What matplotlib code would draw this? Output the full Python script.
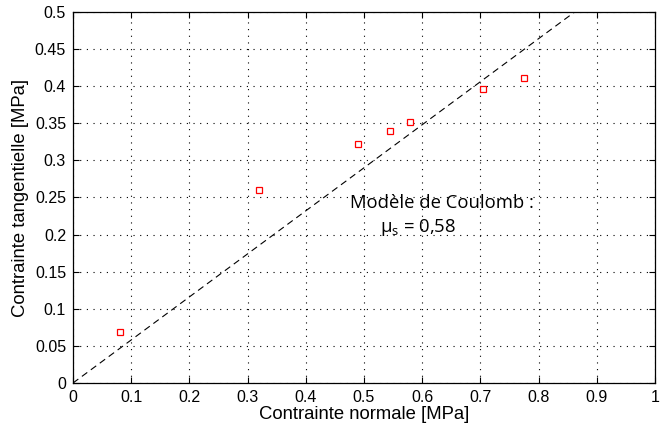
import matplotlib
matplotlib.use("Agg")
import matplotlib.pyplot as plt
import numpy as np

sigma_n = [0.08, 0.32, 0.49, 0.545, 0.579, 0.705, 0.775]
tau = [0.0685, 0.26, 0.322, 0.339, 0.352, 0.396, 0.411]
mu_s = 0.58
xticks = [0, 0.1, 0.2, 0.3, 0.4, 0.5, 0.6, 0.7, 0.8, 0.9, 1]
yticks = [0, 0.05, 0.1, 0.15, 0.2, 0.25, 0.3, 0.35, 0.4, 0.45, 0.5]
xticklabels = ["0", "0.1", "0.2", "0.3", "0.4", "0.5", "0.6", "0.7", "0.8", "0.9", "1"]
yticklabels = ["0", "0.05", "0.1", "0.15", "0.2", "0.25", "0.3", "0.35", "0.4", "0.45", "0.5"]

plt.rcParams['font.family'] = ['Liberation Sans', 'DejaVu Sans']
fig = plt.figure(figsize=(6.67, 4.28), dpi=100)
ax = fig.add_axes([0.1094, 0.1051, 0.8726, 0.867])

xl = np.array([0, 1])
ax.plot(xl, mu_s * xl, linestyle=(0, (6, 4)), color='black', linewidth=0.8)
ax.plot(sigma_n, tau, linestyle='none', marker='s', markersize=5,
        markerfacecolor='none', markeredgecolor='red', markeredgewidth=0.9)

ax.set_xlim(0, 1)
ax.set_ylim(0, 0.5)
ax.set_xticks(xticks)
ax.set_xticklabels(xticklabels)
ax.set_yticks(yticks)
ax.set_yticklabels(yticklabels)
ax.grid(True, linestyle=(0, (1, 5)), color='black', linewidth=0.8)
ax.tick_params(direction='in', top=True, right=True, labelsize=11.5, length=4, width=0.8, pad=5)
for s in ax.spines.values():
    s.set_linewidth(0.9)

ax.set_xlabel("Contrainte normale [MPa]", fontsize=13.3, labelpad=1)
ax.set_ylabel("Contrainte tangentielle [MPa]", fontsize=13.3, labelpad=4)

ax.text(0.634, 0.243, "Modèle de Coulomb :", fontsize=13.3, ha='center', va='center',
        family=['Open Sans', 'DejaVu Sans'])
ax.text(0.593, 0.209, r"$\mathregular{\mu_s}$ = 0,58", fontsize=13.3, ha='center', va='center',
        family=['Open Sans', 'DejaVu Sans'])

fig.savefig("out.png", dpi=100)
